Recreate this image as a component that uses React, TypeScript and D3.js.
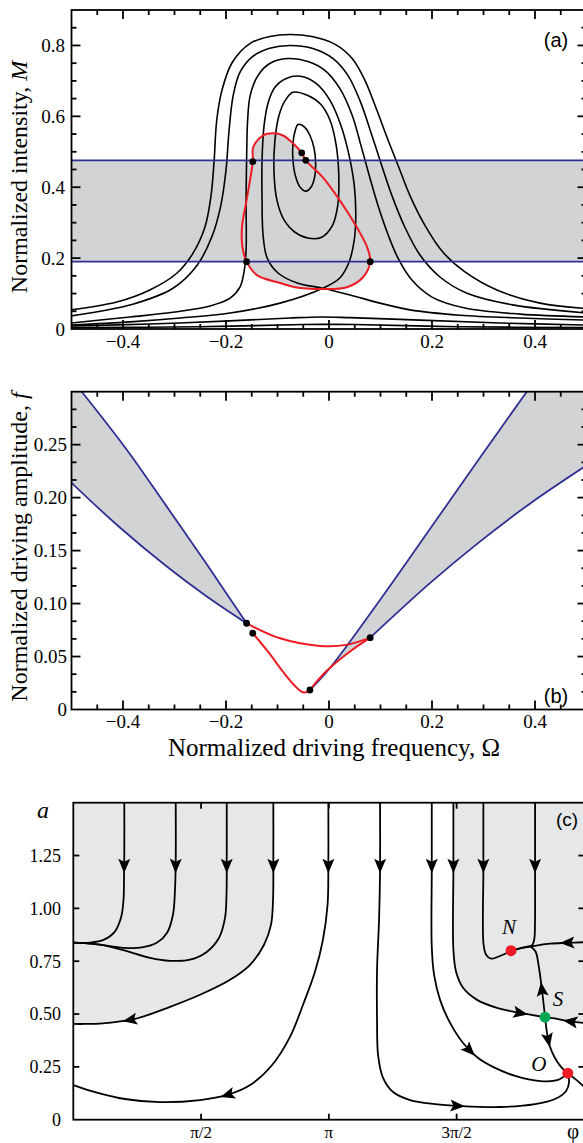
import React, { useEffect, useRef } from "react";
import * as d3 from "d3";

type P = [number, number];

// ---------------- Panel (a): normalized intensity M vs detuning Omega ----------------
const aCurve1: P[] = [[-0.5,0.054],[-0.412,0.076],[-0.348,0.110],[-0.295,0.158],[-0.264,0.214],[-0.241,0.287],[-0.229,0.377],[-0.223,0.476],[-0.218,0.589],[-0.208,0.673],[-0.188,0.752],[-0.153,0.806],[-0.115,0.825],[-0.076,0.831],[-0.033,0.825],[0.012,0.803],[0.045,0.763],[0.070,0.701],[0.093,0.617],[0.115,0.532],[0.134,0.462],[0.157,0.377],[0.186,0.293],[0.221,0.217],[0.264,0.161],[0.326,0.110],[0.410,0.073],[0.5,0.058]];
const aCurve2: P[] = [[-0.5,0.037],[-0.381,0.070],[-0.303,0.115],[-0.256,0.180],[-0.227,0.262],[-0.210,0.349],[-0.200,0.448],[-0.194,0.561],[-0.186,0.659],[-0.173,0.724],[-0.148,0.769],[-0.115,0.792],[-0.076,0.800],[-0.033,0.792],[0.008,0.763],[0.037,0.715],[0.060,0.645],[0.080,0.561],[0.099,0.476],[0.122,0.377],[0.148,0.285],[0.177,0.208],[0.216,0.146],[0.268,0.101],[0.357,0.068],[0.5,0.045]];
const aCurve3: P[] = [[-0.5,0.017],[-0.386,0.034],[-0.299,0.048],[-0.231,0.065],[-0.192,0.087],[-0.173,0.118],[-0.165,0.161],[-0.161,0.223],[-0.161,0.363],[-0.160,0.476],[-0.158,0.589],[-0.153,0.659],[-0.138,0.715],[-0.115,0.749],[-0.080,0.763],[-0.041,0.755],[-0.008,0.730],[0.021,0.679],[0.045,0.603],[0.062,0.518],[0.078,0.434],[0.095,0.349],[0.115,0.265],[0.134,0.200],[0.161,0.138],[0.200,0.090],[0.264,0.059],[0.371,0.042],[0.5,0.034]];
const aSeparatrix: P[] = [[-0.5,0.011],[-0.386,0.020],[-0.289,0.031],[-0.192,0.045],[-0.095,0.073],[-0.012,0.115],[0.021,0.144],[0.039,0.189],[0.049,0.251],[0.052,0.321],[0.049,0.406],[0.039,0.490],[0.023,0.575],[0.002,0.645],[-0.025,0.693],[-0.056,0.713],[-0.083,0.707],[-0.105,0.682],[-0.118,0.639],[-0.126,0.575],[-0.130,0.476],[-0.130,0.363],[-0.128,0.265],[-0.120,0.200],[-0.099,0.158],[-0.062,0.130],[-0.012,0.115],[0.041,0.096],[0.099,0.073],[0.157,0.054],[0.254,0.039],[0.371,0.031],[0.5,0.025]];
const aIsolaOuter: P[] = [[-0.070,0.668],[-0.041,0.659],[-0.016,0.634],[0.002,0.589],[0.014,0.518],[0.019,0.434],[0.017,0.349],[0.006,0.290],[-0.014,0.259],[-0.039,0.256],[-0.066,0.273],[-0.087,0.307],[-0.101,0.363],[-0.107,0.448],[-0.105,0.532],[-0.097,0.603],[-0.085,0.645]];
const aIsolaInner: P[] = [[-0.060,0.577],[-0.047,0.569],[-0.037,0.546],[-0.029,0.510],[-0.026,0.468],[-0.028,0.428],[-0.035,0.400],[-0.045,0.389],[-0.056,0.400],[-0.065,0.431],[-0.070,0.476],[-0.070,0.524],[-0.066,0.558]];
const aLow1: P[] = [[-0.5,0.0085],[-0.348,0.014],[-0.192,0.023],[-0.076,0.031],[-0.017,0.034],[0.041,0.032],[0.177,0.025],[0.332,0.017],[0.5,0.011]];
const aLow2: P[] = [[-0.5,0.004],[-0.25,0.0065],[-0.05,0.0125],[0,0.013],[0.05,0.0125],[0.25,0.0065],[0.5,0.004]];
const aRedLoop: P[] = [[-0.109,0.552],[-0.089,0.546],[-0.070,0.524],[-0.053,0.497],[-0.045,0.476],[-0.012,0.428],[0.021,0.363],[0.054,0.287],[0.074,0.231],[0.080,0.190],[0.066,0.146],[0.035,0.118],[-0.017,0.113],[-0.066,0.118],[-0.095,0.130],[-0.140,0.152],[-0.160,0.190],[-0.168,0.231],[-0.169,0.287],[-0.159,0.372],[-0.148,0.472],[-0.147,0.513],[-0.128,0.546]];
const aBand: number[] = [0.190, 0.476];
const aDots: P[] = [[-0.148,0.472],[-0.160,0.190],[0.080,0.190],[-0.053,0.497],[-0.045,0.476]];

// ---------------- Panel (b): driving amplitude f vs Omega ----------------
const bLeftUpper: P[] = [[-0.480,0.300],[-0.393,0.2455],[-0.315,0.1915],[-0.238,0.1375],[-0.160,0.0814]];
const bLeftLower: P[] = [[-0.5,0.214],[-0.41,0.1735],[-0.315,0.135],[-0.24,0.1077],[-0.160,0.0814]];
const bRightUpper: P[] = [[-0.037,0.0184],[0.002,0.0392],[0.099,0.1034],[0.196,0.1704],[0.293,0.2377],[0.384,0.300]];
const bRightLower: P[] = [[0.080,0.0678],[0.196,0.1193],[0.293,0.1585],[0.390,0.1943],[0.5,0.2305]];
const bRedUpper: P[] = [[-0.160,0.0814],[-0.095,0.0672],[-0.0175,0.0600],[0.034,0.0610],[0.080,0.0678]];
const bRedLowerLeft: P[] = [[-0.148,0.0720],[-0.118,0.0543],[-0.089,0.0354],[-0.066,0.0222],[-0.052,0.0165],[-0.043,0.0165],[-0.037,0.0184]];
const bRedLowerRight: P[] = [[-0.037,0.0184],[-0.021,0.0279],[-0.004,0.0368],[0.037,0.0534],[0.080,0.0678]];
const bDots: P[] = [[-0.160,0.0814],[-0.148,0.0720],[-0.037,0.0184],[0.080,0.0678]];

// ---------------- Panel (c): phase portrait, phi (in units of pi) vs a ----------------
const cT1: P[] = [[0.1996,1.5],[0.1996,1.278],[0.1984,1.136],[0.1965,1.041],[0.1867,0.956],[0.1593,0.885],[0.1202,0.852],[0.0654,0.838],[0,0.838]];
const cT2: P[] = [[0.4008,1.5],[0.4008,1.227],[0.398,1.089],[0.390,0.970],[0.367,0.885],[0.328,0.838],[0.269,0.815],[0.196,0.813],[0.1045,0.828],[0.0458,0.836],[0,0.838]];
const cT3: P[] = [[0.6004,1.5],[0.6004,1.227],[0.5996,1.07],[0.5937,0.955],[0.5703,0.861],[0.5233,0.795],[0.4568,0.757],[0.3785,0.752],[0.3002,0.766],[0.2023,0.800],[0.1045,0.828],[0.0458,0.836],[0,0.838]];
const cT4: P[] = [[0.7828,1.5],[0.7828,1.227],[0.7816,1.041],[0.7738,0.923],[0.7464,0.828],[0.6916,0.733],[0.6133,0.662],[0.4959,0.591],[0.3785,0.534],[0.2415,0.477],[0.1045,0.455],[0.0458,0.453],[0,0.453]];
const cT5: P[] = [[0.998,1.5],[0.998,1.184],[0.995,1.017],[0.977,0.852],[0.946,0.701],[0.899,0.544],[0.848,0.392],[0.778,0.259],[0.692,0.164],[0.602,0.117],[0.496,0.093],[0.339,0.083],[0.202,0.098],[0.085,0.131],[0,0.164]];
const cT6: P[] = [[1.2004,1.5],[1.2004,1.184],[1.1965,0.946],[1.1886,0.710],[1.1886,0.473],[1.1926,0.306],[1.2121,0.198],[1.2513,0.131],[1.3178,0.093],[1.4157,0.074],[1.5135,0.065],[1.6701,0.060],[1.8070,0.074],[1.8853,0.098],[1.9284,0.136],[1.9401,0.179],[1.935,0.22]];
const cT7: P[] = [[1.4027,1.5],[1.4027,1.184],[1.4027,0.818],[1.4117,0.686],[1.4352,0.567],[1.4744,0.458],[1.5252,0.363],[1.5840,0.292],[1.6505,0.245],[1.7288,0.207],[1.8266,0.183],[1.8967,0.188],[1.935,0.22]];
const cT8: P[] = [[1.4873,1.5],[1.4873,1.184],[1.4873,0.804],[1.4978,0.700],[1.5252,0.624],[1.5800,0.567],[1.6583,0.529],[1.7483,0.505],[1.8462,0.485]];
const cT9: P[] = [[1.6047,1.5],[1.6047,1.184],[1.6055,0.828],[1.6153,0.781],[1.6348,0.762],[1.6622,0.771],[1.6896,0.785],[1.7131,0.800]];
const cT10: P[] = [[1.8070,1.5],[1.8070,1.184],[1.8065,0.92],[1.8040,0.855],[1.7955,0.826],[1.7800,0.820],[1.7483,0.811],[1.7131,0.800]];
const cT11: P[] = [[2.0,0.840],[1.9323,0.837],[1.8658,0.833],[1.8070,0.823],[1.7483,0.811],[1.7131,0.800]];
const cT12: P[] = [[1.8462,0.485],[1.8344,0.609],[1.8214,0.725],[1.8084,0.797],[1.7875,0.821]];
const cT13: P[] = [[1.8462,0.485],[1.8536,0.411],[1.8654,0.345],[1.8849,0.292],[1.9084,0.250],[1.935,0.22]];
const cT14: P[] = [[2.0,0.458],[1.944,0.465],[1.893,0.477],[1.8462,0.485]];
const cT15: P[] = [[1.935,0.22],[1.9636,0.193],[2.0,0.155]];
const cArrowsDown: number[] = [0.1996,0.4008,0.6004,0.7828,0.998,1.2004,1.4027,1.4873,1.6047,1.8070];
const cArrowsOther: P[] = [[0.222,0.464],[0.602,0.121],[1.501,0.060],[1.5526,0.330],[1.748,0.505],[1.932,0.837],[1.834,0.615],[1.858,0.378],[1.944,0.463]];
const cPointN: P = [1.713,0.80];
const cPointS: P = [1.846,0.485];
const cPointO: P = [1.935,0.22];

const omegaTickVals = [-0.4,-0.2,0,0.2,0.4];
const omegaTickLabels = ["\u22120.4","\u22120.2","0","0.2","0.4"];
const aYTickVals = [0,0.2,0.4,0.6,0.8];
const aYTickLabels = ["0","0.2","0.4","0.6","0.8"];
const bYTickVals = [0,0.05,0.1,0.15,0.2,0.25];
const bYTickLabels = ["0","0.05","0.10","0.15","0.20","0.25"];
const cYTickVals = [0,0.25,0.5,0.75,1,1.25];
const cYTickLabels = ["0","0.25","0.50","0.75","1.00","1.25"];
const cXTickVals = [0.5,1,1.5];
const cXTickLabels = ["\u03c0/2","\u03c0","3\u03c0/2"];

const SERIF = "'Liberation Serif','Times New Roman',serif";
const SANS = "'Liberation Sans',Arial,sans-serif";
const GRAY_AB = "#d1d3d4";
const GRAY_C = "#e6e7e8";
const BLUE = "#2e3192";
const RED = "#ed1c24";
const GREEN = "#00a651";

export default function App() {
  const ref = useRef<SVGSVGElement | null>(null);

  useEffect(() => {
    const svg = d3.select(ref.current as SVGSVGElement);
    svg.selectAll("*").remove();
    const defs = svg.append("defs");

    const xA = d3.scaleLinear().domain([-0.5, 0.5]).range([71.5, 586.5]);
    const yA = d3.scaleLinear().domain([0, 0.9]).range([329, 10]);
    const yB = d3.scaleLinear().domain([0, 0.3]).range([709.5, 391.7]);
    const xC = d3.scaleLinear().domain([0, 2]).range([73.3, 584.4]);
    const yC = d3.scaleLinear().domain([0, 1.5]).range([1119.7, 802.7]);

    const mkClip = (id: string, x: any, y: any) => {
      defs.append("clipPath").attr("id", id).append("rect")
        .attr("x", x.range()[0]).attr("y", y.range()[1])
        .attr("width", x.range()[1] - x.range()[0]).attr("height", y.range()[0] - y.range()[1]);
    };
    mkClip("clipA", xA, yA);
    mkClip("clipB", xA, yB);
    mkClip("clipC", xC, yC);

    const spline = (x: any, y: any) => d3.line<P>().x(d => x(d[0])).y(d => y(d[1])).curve(d3.curveCatmullRom.alpha(0.5));
    const splineClosed = (x: any, y: any) => d3.line<P>().x(d => x(d[0])).y(d => y(d[1])).curve(d3.curveCatmullRomClosed.alpha(0.5));
    const corner = (x: any, y: any, p: P) => `M${x(p[0])},${y(p[1])}`;
    const join = (...segs: string[]) => segs.map((s, i) => (i === 0 ? s : s.replace(/^M/, "L"))).join("") + "Z";

    const drawTicks = (g: any, x: any, y: any, xt: { v: number; major: boolean }[], yt: { v: number; major: boolean }[], maj: number, min: number) => {
      const [xl, xr] = x.range();
      const [yb, ytop] = y.range();
      xt.forEach(t => {
        const len = t.major ? maj : min;
        const px = x(t.v);
        g.append("line").attr("x1", px).attr("x2", px).attr("y1", yb).attr("y2", yb - len);
        g.append("line").attr("x1", px).attr("x2", px).attr("y1", ytop).attr("y2", ytop + len);
      });
      yt.forEach(t => {
        const len = t.major ? maj : min;
        const py = y(t.v);
        g.append("line").attr("x1", xl).attr("x2", xl + len).attr("y1", py).attr("y2", py);
        g.append("line").attr("x1", xr).attr("x2", xr - len).attr("y1", py).attr("y2", py);
      });
      g.append("rect").attr("x", xl).attr("y", ytop).attr("width", xr - xl).attr("height", yb - ytop)
        .attr("fill", "none").attr("stroke", "#000").attr("stroke-width", 1.8);
    };

    const omegaTicks = d3.range(-9, 10).map(i => ({ v: i * 0.05, major: i % 4 === 0 }));

    // ================= Panel (a) =================
    const gA = svg.append("g");
    const gAc = gA.append("g").attr("clip-path", "url(#clipA)");
    const lA = spline(xA, yA);
    const lAc = splineClosed(xA, yA);
    gAc.append("rect").attr("x", xA(-0.5)).attr("width", xA(0.5) - xA(-0.5))
      .attr("y", yA(aBand[1])).attr("height", yA(aBand[0]) - yA(aBand[1])).attr("fill", GRAY_AB);
    gAc.append("path").attr("d", lAc(aRedLoop)).attr("fill", GRAY_AB);
    [aCurve1, aCurve2, aCurve3, aSeparatrix, aLow1, aLow2].forEach(c => {
      gAc.append("path").attr("d", lA(c)).attr("fill", "none").attr("stroke", "#000").attr("stroke-width", 1.6);
    });
    [aIsolaOuter, aIsolaInner].forEach(c => {
      gAc.append("path").attr("d", lAc(c)).attr("fill", "none").attr("stroke", "#000").attr("stroke-width", 1.6);
    });
    aBand.forEach(m => {
      gAc.append("line").attr("x1", xA(-0.5)).attr("x2", xA(0.5)).attr("y1", yA(m)).attr("y2", yA(m))
        .attr("stroke", BLUE).attr("stroke-width", 1.8);
    });
    gAc.append("path").attr("d", lAc(aRedLoop)).attr("fill", "none").attr("stroke", RED).attr("stroke-width", 2);
    aDots.forEach(d => gAc.append("circle").attr("cx", xA(d[0])).attr("cy", yA(d[1])).attr("r", 3.4).attr("fill", "#000"));
    const gAt = gA.append("g").attr("stroke", "#000").attr("stroke-width", 1.8);
    drawTicks(gAt, xA, yA, omegaTicks, d3.range(1, 18).map(i => ({ v: i * 0.05, major: i % 4 === 0 })), 9, 5);
    omegaTickVals.forEach((v, i) => gA.append("text").attr("x", xA(v)).attr("y", 348).attr("text-anchor", "middle")
      .attr("font-family", SERIF).attr("font-size", 19).text(omegaTickLabels[i]));
    aYTickVals.forEach((v, i) => gA.append("text").attr("x", 65).attr("y", yA(v)).attr("dy", "0.35em").attr("text-anchor", "end")
      .attr("font-family", SERIF).attr("font-size", 19).text(aYTickLabels[i]));
    const tA = gA.append("text").attr("transform", "translate(27,177) rotate(-90)").attr("text-anchor", "middle")
      .attr("font-family", SERIF).attr("font-size", 24);
    tA.append("tspan").text("Normalized intensity, ");
    tA.append("tspan").attr("font-style", "italic").text("M");
    gA.append("text").attr("x", 556).attr("y", 47).attr("text-anchor", "middle").attr("font-family", SANS).attr("font-size", 20).text("(a)");

    // ================= Panel (b) =================
    const gB = svg.append("g");
    const gBc = gB.append("g").attr("clip-path", "url(#clipB)");
    const lB = spline(xA, yB);
    gBc.append("path").attr("fill", GRAY_AB).attr("d", join(
      lB(bLeftUpper) as string,
      lB(bLeftLower.slice().reverse()) as string,
      corner(xA, yB, [-0.5, 0.3])
    ));
    gBc.append("path").attr("fill", GRAY_AB).attr("d", join(
      lB(bRightUpper) as string,
      corner(xA, yB, [0.5, 0.3]),
      lB(bRightLower.slice().reverse()) as string,
      lB(bRedLowerRight.slice().reverse()) as string
    ));
    [bLeftUpper, bLeftLower, bRightUpper, bRightLower].forEach(c =>
      gBc.append("path").attr("d", lB(c)).attr("fill", "none").attr("stroke", BLUE).attr("stroke-width", 1.8));
    [bRedUpper, bRedLowerLeft, bRedLowerRight].forEach(c =>
      gBc.append("path").attr("d", lB(c)).attr("fill", "none").attr("stroke", RED).attr("stroke-width", 2));
    bDots.forEach(d => gBc.append("circle").attr("cx", xA(d[0])).attr("cy", yB(d[1])).attr("r", 3.4).attr("fill", "#000"));
    const gBt = gB.append("g").attr("stroke", "#000").attr("stroke-width", 1.8);
    drawTicks(gBt, xA, yB, omegaTicks, d3.range(1, 18).map(i => ({ v: (i * 0.05) / 3, major: i % 3 === 0 })), 9, 5);
    omegaTickVals.forEach((v, i) => gB.append("text").attr("x", xA(v)).attr("y", 728).attr("text-anchor", "middle")
      .attr("font-family", SERIF).attr("font-size", 19).text(omegaTickLabels[i]));
    bYTickVals.forEach((v, i) => gB.append("text").attr("x", 67).attr("y", yB(v)).attr("dy", "0.35em").attr("text-anchor", "end")
      .attr("font-family", SERIF).attr("font-size", 19).text(bYTickLabels[i]));
    const tB = gB.append("text").attr("transform", "translate(27,547) rotate(-90)").attr("text-anchor", "middle")
      .attr("font-family", SERIF).attr("font-size", 24);
    tB.append("tspan").text("Normalized driving amplitude, ");
    tB.append("tspan").attr("font-style", "italic").text("f");
    gB.append("text").attr("x", 334).attr("y", 756).attr("text-anchor", "middle").attr("font-family", SERIF)
      .attr("font-size", 25).text("Normalized driving frequency, \u03a9");
    gB.append("text").attr("x", 556).attr("y", 703).attr("text-anchor", "middle").attr("font-family", SANS).attr("font-size", 20).text("(b)");

    // ================= Panel (c) =================
    const gC = svg.append("g");
    const gCc = gC.append("g").attr("clip-path", "url(#clipC)");
    const lC = spline(xC, yC);
    gCc.append("path").attr("fill", GRAY_C).attr("d", join(
      corner(xC, yC, [0, 1.5]),
      lC(cT4) as string
    ));
    gCc.append("path").attr("fill", GRAY_C).attr("d", join(
      lC(cT8) as string,
      lC(cT14.slice().reverse()) as string,
      corner(xC, yC, [2, 1.5])
    ));
    const trajectories = [cT1, cT2, cT3, cT4, cT5, cT6, cT7, cT8, cT9, cT10, cT11, cT12, cT13, cT14, cT15];
    const nodes: SVGPathElement[] = [];
    trajectories.forEach(c => {
      const p = gCc.append("path").attr("d", lC(c)).attr("fill", "none").attr("stroke", "#000").attr("stroke-width", 1.8);
      nodes.push(p.node() as SVGPathElement);
    });
    const anchors: P[] = [
      ...cArrowsDown.map(v => [v, 1.2] as P),
      ...cArrowsOther,
    ];
    anchors.forEach(an => {
      const ax = xC(an[0]), ay = yC(an[1]);
      let bestNode: SVGPathElement | null = null;
      let bestL = 0, bestD = Infinity;
      nodes.forEach(nd => {
        const L = nd.getTotalLength();
        for (let l = 0; l <= L; l += 1) {
          const pt = nd.getPointAtLength(l);
          const dd = (pt.x - ax) ** 2 + (pt.y - ay) ** 2;
          if (dd < bestD) { bestD = dd; bestL = l; bestNode = nd; }
        }
      });
      if (!bestNode) return;
      const nd = bestNode as SVGPathElement;
      const L = nd.getTotalLength();
      const p0 = nd.getPointAtLength(bestL);
      const p1 = nd.getPointAtLength(Math.max(0, bestL - 3));
      const p2 = nd.getPointAtLength(Math.min(L, bestL + 3));
      const ang = (Math.atan2(p2.y - p1.y, p2.x - p1.x) * 180) / Math.PI;
      gCc.append("path").attr("d", "M7.5,0 L-7,-6 L-4,0 L-7,6 Z").attr("fill", "#000")
        .attr("transform", `translate(${p0.x},${p0.y}) rotate(${ang})`);
    });
    [[cPointN, RED], [cPointS, GREEN], [cPointO, RED]].forEach(([pt, col]: any) =>
      gCc.append("circle").attr("cx", xC(pt[0])).attr("cy", yC(pt[1])).attr("r", 5.5).attr("fill", col));
    const gCt = gC.append("g").attr("stroke", "#000").attr("stroke-width", 1.8);
    drawTicks(gCt, xC, yC, cXTickVals.map(v => ({ v, major: true })), cYTickVals.slice(1).map(v => ({ v, major: true })), 6, 6);
    cXTickVals.forEach((v, i) => gC.append("text").attr("x", xC(v)).attr("y", 1138).attr("text-anchor", "middle")
      .attr("font-family", SERIF).attr("font-size", 17).text(cXTickLabels[i]));
    cYTickVals.forEach((v, i) => gC.append("text").attr("x", 61).attr("y", yC(v)).attr("dy", "0.35em").attr("text-anchor", "end")
      .attr("font-family", SERIF).attr("font-size", 18).text(cYTickLabels[i]));
    gC.append("text").attr("x", 43).attr("y", 818).attr("text-anchor", "middle").attr("font-family", SERIF)
      .attr("font-style", "italic").attr("font-size", 24).text("a");
    gC.append("text").attr("x", 573).attr("y", 1138).attr("text-anchor", "middle").attr("font-family", SERIF)
      .attr("font-size", 21).text("\u03c6");
    gC.append("text").attr("x", 567).attr("y", 826).attr("text-anchor", "middle").attr("font-family", SANS).attr("font-size", 19).text("(c)");
    const lbl = (t: string, x: number, y: number) => gC.append("text").attr("x", x).attr("y", y).attr("text-anchor", "middle")
      .attr("font-family", SERIF).attr("font-style", "italic").attr("font-size", 21).text(t);
    lbl("N", xC(cPointN[0]) - 2, yC(cPointN[1]) - 17);
    lbl("S", xC(cPointS[0]) + 13, yC(cPointS[1]) - 11);
    lbl("O", xC(cPointO[0]) - 29, yC(cPointO[1]) - 2);
  }, []);

  return <svg ref={ref} width={583} height={1143} style={{ position: "absolute", left: 0, top: 0, background: "#fff" }} />;
}
